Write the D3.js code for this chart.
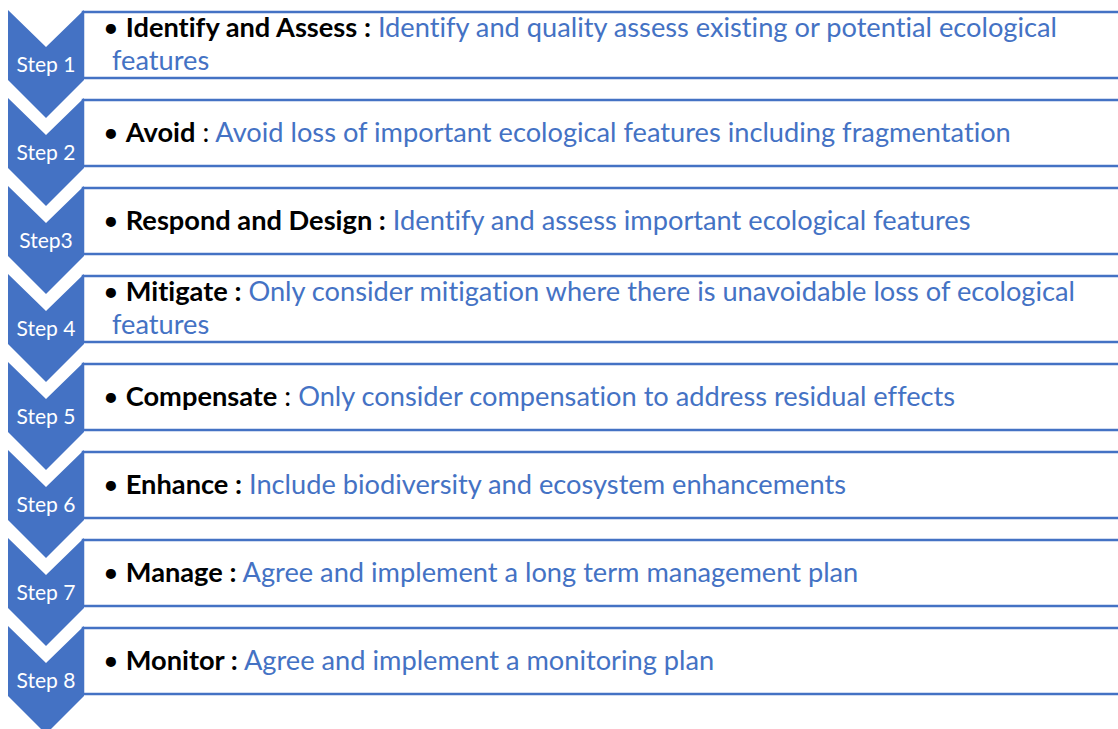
<!DOCTYPE html>
<html>
<head>
<meta charset="utf-8">
<script src="https://cdn.jsdelivr.net/npm/d3@7"></script>
<style>
  html, body { margin: 0; padding: 0; background: #ffffff; }
  svg { display: block; }
  text { font-variant-ligatures: none; font-feature-settings: "liga" 0, "clig" 0; }
</style>
</head>
<body>
<svg id="chart" width="1118" height="729"></svg>
<script>
// ---- data ----
const steps = ["Step 1", "Step 2", "Step3", "Step 4", "Step 5", "Step 6", "Step 7", "Step 8"];
const labels = ["Identify and Assess :", "Avoid", "Respond and Design :", "Mitigate :", "Compensate", "Enhance :", "Manage :", "Monitor :"];
const separators = ["", " : ", "", "", " : ", "", "", ""];
const descriptions = [
  ["Identify and quality assess existing or potential ecological", "features"],
  ["Avoid loss of important ecological features including fragmentation"],
  ["Identify and assess important ecological features"],
  ["Only consider mitigation where there is unavoidable loss of ecological", "features"],
  ["Only consider compensation to address residual effects"],
  ["Include biodiversity and ecosystem enhancements"],
  ["Agree and implement a long term management plan"],
  ["Agree and implement a monitoring plan"]
];

// ---- layout ----
const W = 1118, H = 729;
const blue = "#4472C4";
const fontFam = "Lato, 'Open Sans', sans-serif";
const svg = d3.select("#chart");

const y = d3.scaleBand().domain(steps).range([12, 694]).paddingInner(0.25).paddingOuter(0);
const x = d3.scaleLinear().domain([0, 1]).range([8, 84]); // chevron horizontal extent
const boxX = 83;

// ---- boxes ----
svg.append("g").selectAll("rect").data(steps).join("rect")
  .attr("x", boxX)
  .attr("y", d => y(d))
  .attr("width", W + 40 - boxX)
  .attr("height", y.bandwidth())
  .attr("fill", "#ffffff")
  .attr("stroke", blue)
  .attr("stroke-width", 2.5);

// ---- chevrons ----
const notch = 37, side = 70, tip = 108;
function chevronPath(d) {
  const t = y(d) - 2;
  const x0 = x(0), x1 = x(1), xm = x(0.5);
  return `M${x0},${t} L${xm},${t + notch} L${x1},${t} L${x1},${t + side} L${xm},${t + tip} L${x0},${t + side} Z`;
}
svg.append("g").selectAll("path").data(steps).join("path")
  .attr("d", chevronPath)
  .attr("fill", blue);

// step labels
const stepText = svg.append("g").selectAll("text").data(steps).join("text")
  .attr("x", x(0.5))
  .attr("y", d => y(d) + 60)
  .attr("text-anchor", "middle")
  .attr("font-family", fontFam)
  .attr("font-size", 20)
  .attr("fill", "#ffffff")
  .text(d => d);
const s1 = stepText.nodes()[0].getComputedTextLength();
stepText.attr("font-size", 20 * 59 / s1);

// ---- box texts ----
const g = svg.append("g").attr("font-family", fontFam).attr("font-size", 24);
const firstLines = [];
steps.forEach((s, i) => {
  const top = y(s);
  const lines = descriptions[i];
  const base1 = lines.length > 1 ? top + 25 : top + 42;
  const t = g.append("text").attr("x", 103).attr("y", base1);
  t.append("tspan").attr("fill", "#000000").text("• ");
  t.append("tspan").attr("fill", "#000000").attr("font-weight", "bold").text(labels[i]);
  if (separators[i]) t.append("tspan").attr("fill", "#000000").text(separators[i]);
  else t.append("tspan").attr("fill", blue).text(" ");
  t.append("tspan").attr("fill", blue).text(lines[0]);
  firstLines.push(t.node());
  for (let k = 1; k < lines.length; k++) {
    g.append("text")
      .attr("x", 112)
      .attr("y", base1 + 33 * k)
      .attr("fill", blue)
      .text(lines[k]);
  }
});
// calibrate size so lines span about as wide as the original Calibri text
const measured = firstLines[0].getComputedTextLength() + firstLines[2].getComputedTextLength();
g.attr("font-size", 24 * (955 + 867) / measured);
</script>
</body>
</html>
